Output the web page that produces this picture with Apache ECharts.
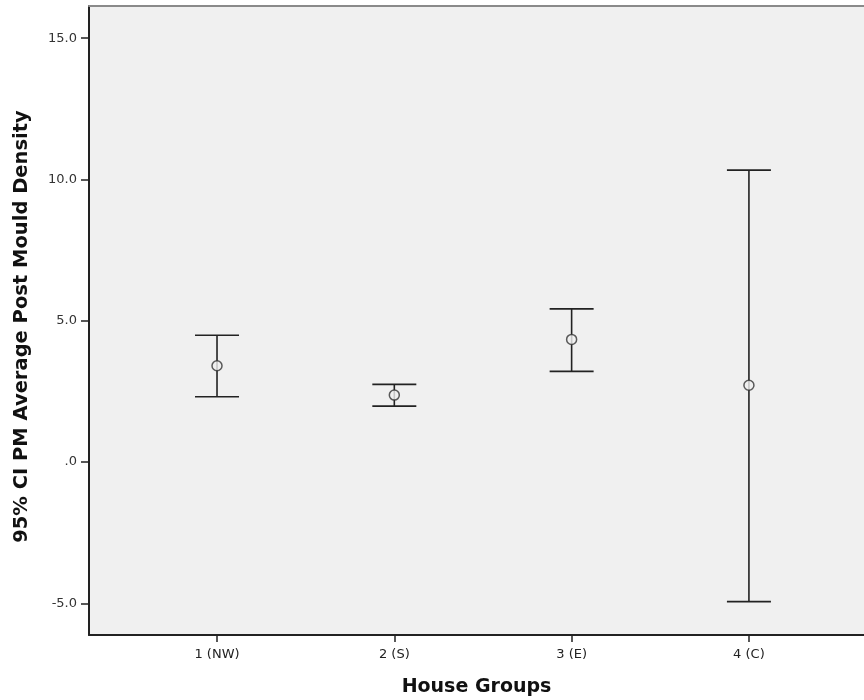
<!DOCTYPE html>
<html>
<head>
<meta charset="utf-8">
<script src="https://cdn.jsdelivr.net/npm/echarts@6/dist/echarts.min.js"></script>
<style>
  html, body { margin: 0; padding: 0; background: #ffffff; overflow: hidden; }
  #chart { width: 864px; height: 700px; }
</style>
</head>
<body>
<div id="chart"></div>
<script>
// ---- data ----
const categories = ['1 (NW)', '2 (S)', '3 (E)', '4 (C)'];
const xPositions = [1, 2, 3, 4];
const means = [3.41, 2.37, 4.34, 2.72];
const lowerCI = [2.31, 1.98, 3.21, -4.94];
const upperCI = [4.49, 2.75, 5.42, 10.33];
const yTicks = [-5, 0, 5, 10, 15];

const barData = xPositions.map((x, i) => [x, lowerCI[i], upperCI[i]]);
const meanData = xPositions.map((x, i) => [x, means[i]]);

const chart = echarts.init(document.getElementById('chart'), null, { renderer: 'canvas' });

const font = 'DejaVu Sans';

chart.setOption({
  animation: false,
  backgroundColor: '#ffffff',
  grid: {
    left: 89, right: 0, top: 6, bottom: 65,
    outerBoundsMode: 'none',
    containLabel: false,
    show: true,
    backgroundColor: '#f0f0f0',
    borderWidth: 0
  },
  xAxis: [
    {
      type: 'value',
      min: 0.278,
      max: 4.649,
      name: 'House Groups',
      nameLocation: 'middle',
      nameGap: 43,
      nameTextStyle: { fontFamily: font, fontWeight: 'bold', fontSize: 19, color: '#111' },
      splitLine: { show: false },
      axisLine: { show: true, onZero: false, lineStyle: { color: '#222', width: 2 } },
      axisTick: { show: true, length: 7, customValues: xPositions, lineStyle: { color: '#222', width: 1.5 } },
      axisLabel: {
        customValues: xPositions,
        margin: 13,
        fontFamily: font, fontSize: 13, color: '#222',
        formatter: v => categories[Math.round(v) - 1]
      }
    },
    {
      type: 'value',
      position: 'top',
      min: 0.278,
      max: 4.649,
      splitLine: { show: false },
      axisLine: { show: true, onZero: false, lineStyle: { color: '#8a8a8a', width: 2 } },
      axisTick: { show: false },
      axisLabel: { show: false }
    }
  ],
  yAxis: {
    type: 'value',
    min: -6.12,
    max: 16.14,
    name: '95% CI PM Average Post Mould Density',
    nameLocation: 'middle',
    nameGap: 57,
    nameRotate: 90,
    nameTextStyle: { fontFamily: font, fontWeight: 'bold', fontSize: 19.5, color: '#111', padding: [0, 12, 0, 0] },
    splitLine: { show: false },
    axisLine: { show: true, onZero: false, lineStyle: { color: '#222', width: 2 } },
    axisTick: { show: true, length: 8, customValues: yTicks, lineStyle: { color: '#222', width: 1.5 } },
    axisLabel: {
      customValues: yTicks,
      margin: 12,
      fontFamily: font, fontSize: 13, color: '#333',
      formatter: v => (v === 0 ? '.0' : v.toFixed(1))
    }
  },
  series: [
    {
      type: 'custom',
      xAxisIndex: 0,
      data: barData,
      renderItem: function (params, api) {
        const x = api.value(0);
        const lo = api.coord([x, api.value(1)]);
        const hi = api.coord([x, api.value(2)]);
        const hw = 22;
        const style = { stroke: '#222', lineWidth: 1.6 };
        return {
          type: 'group',
          children: [
            { type: 'line', shape: { x1: hi[0], y1: hi[1], x2: lo[0], y2: lo[1] }, style: style },
            { type: 'line', shape: { x1: hi[0] - hw, y1: hi[1], x2: hi[0] + hw, y2: hi[1] }, style: style },
            { type: 'line', shape: { x1: lo[0] - hw, y1: lo[1], x2: lo[0] + hw, y2: lo[1] }, style: style }
          ]
        };
      },
      z: 2
    },
    {
      type: 'scatter',
      xAxisIndex: 0,
      data: meanData,
      symbol: 'circle',
      symbolSize: 10,
      itemStyle: { color: '#f0f0f0', borderColor: '#333', borderWidth: 1.5 },
      z: 3
    }
  ]
});
</script>
</body>
</html>
